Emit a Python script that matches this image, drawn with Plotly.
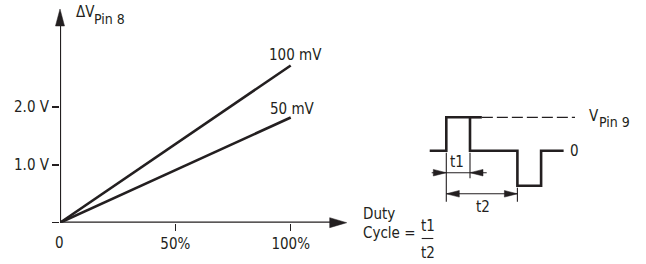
import plotly.graph_objects as go

# ---------------- data ----------------
duty_pct = [0, 100]                  # duty cycle (%)
dv_100mV = [0, 2.72]                 # ΔV Pin 8 (V) for 100 mV
dv_50mV = [0, 1.82]                  # ΔV Pin 8 (V) for 50 mV
x_tick_vals = [50, 100]
x_tick_text = ["50%", "100%"]
y_tick_vals = [0, 1, 2]
y_tick_text = ["", "1.0 V", "2.0 V"]

# waveform (time in t1 units, level in V_Pin9 units)
wave_t = [-0.7, 0, 0, 1, 1, 3, 3, 4, 4, 4.95]
wave_v = [0, 0, 1, 1, 0, 0, -1.05, -1.05, 0, 0]
hold_t = [1, 1.5]
dash_t = [1.5, 5.43]
t1_len = 1
t2_len = 3

# ---------------- layout helpers ----------------
W, H = 646, 264
INK = "#231f20"
FONT = "DejaVu Sans Condensed, Liberation Sans Narrow, Liberation Sans, sans-serif"
FS = 15

# main chart pixel geometry
X0, XPX_PER = 60.0, 2.307        # 0 % at 60 px
Y0, YPX_PER = 222.7, 57.8        # 0 V at 222.7 px
X_END, Y_TOP = 346.7, 9.0

# waveform pixel geometry
T0, TPX = 446.3, 23.7
V0, VPX = 150.7, 33.4


def fx(p):
    return p / W


def fy(p):
    return 1 - p / H


def wx(t):
    return T0 + TPX * t


def wy(v):
    return V0 - VPX * v


def tri(tip, direction, length, half):
    x, y = tip
    if direction == "right":
        pts = [(x, y), (x - length, y - half), (x - length, y + half)]
    elif direction == "left":
        pts = [(x, y), (x + length, y - half), (x + length, y + half)]
    else:  # up
        pts = [(x, y), (x - half, y + length), (x + half, y + length)]
    d = "M " + " L ".join(f"{fx(a):.5f},{fy(b):.5f}" for a, b in pts) + " Z"
    return dict(type="path", xref="paper", yref="paper", path=d,
                fillcolor=INK, line=dict(color=INK, width=0.5), layer="above")


def seg(x0, y0, x1, y1, width=1.2, dash="solid"):
    return dict(type="line", xref="paper", yref="paper",
                x0=fx(x0), y0=fy(y0), x1=fx(x1), y1=fy(y1),
                line=dict(color=INK, width=width, dash=dash), layer="above")


def txt(text, x, y, size=FS, xanchor="center"):
    return dict(text=text, xref="paper", yref="paper", x=fx(x), y=fy(y),
                xanchor=xanchor, yanchor="middle", showarrow=False,
                font=dict(family=FONT, size=size, color=INK))


fig = go.Figure()

# main chart lines
fig.add_trace(go.Scatter(x=duty_pct, y=dv_100mV, mode="lines",
                         line=dict(color=INK, width=2.6), xaxis="x", yaxis="y",
                         hoverinfo="skip", showlegend=False))
fig.add_trace(go.Scatter(x=duty_pct, y=dv_50mV, mode="lines",
                         line=dict(color=INK, width=2.6), xaxis="x", yaxis="y",
                         hoverinfo="skip", showlegend=False))

# waveform
fig.add_trace(go.Scatter(x=wave_t, y=wave_v, mode="lines",
                         line=dict(color=INK, width=2.6), xaxis="x2", yaxis="y2",
                         hoverinfo="skip", showlegend=False))
fig.add_trace(go.Scatter(x=hold_t, y=[1, 1], mode="lines",
                         line=dict(color=INK, width=2.6), xaxis="x2", yaxis="y2",
                         hoverinfo="skip", showlegend=False))
fig.add_trace(go.Scatter(x=dash_t, y=[1, 1], mode="lines",
                         line=dict(color=INK, width=1.3, dash="11px,4px"),
                         xaxis="x2", yaxis="y2",
                         hoverinfo="skip", showlegend=False))

xr = [0, (X_END - X0) / XPX_PER]
yr = [0, (Y0 - Y_TOP) / YPX_PER]

fig.update_layout(
    width=W, height=H,
    margin=dict(l=0, r=0, t=0, b=0),
    paper_bgcolor="white", plot_bgcolor="rgba(0,0,0,0)",
    showlegend=False,
    xaxis=dict(domain=[fx(X0), fx(X_END)], range=xr, showgrid=False,
               zeroline=False, showline=False, tickmode="array",
               tickvals=x_tick_vals, ticktext=x_tick_text, ticks="outside",
               ticklen=7, tickwidth=1.5, tickcolor=INK, automargin=False,
               tickfont=dict(family=FONT, size=FS, color=INK), anchor="y"),
    yaxis=dict(domain=[fy(Y0), fy(Y_TOP)], range=yr, showgrid=False,
               zeroline=False, showline=False, tickmode="array",
               tickvals=y_tick_vals, ticktext=y_tick_text, ticks="outside",
               ticklen=7, tickwidth=1.5, tickcolor=INK, automargin=False,
               tickfont=dict(family=FONT, size=FS, color=INK), anchor="x"),
    xaxis2=dict(domain=[0, 1], range=[-T0 / TPX, (W - T0) / TPX],
                visible=False, anchor="y2"),
    yaxis2=dict(domain=[0, 1], range=[(V0 - H) / VPX, V0 / VPX],
                visible=False, anchor="x2"),
)

shapes = []
# axes lines
shapes.append(dict(type="line", xref="x", yref="y", x0=0, y0=0,
                   x1=(X_END - 10 - X0) / XPX_PER, y1=0,
                   line=dict(color=INK, width=2.2), layer="above"))
shapes.append(dict(type="line", xref="x", yref="y", x0=0, y0=0, x1=0,
                   y1=(Y0 - Y_TOP - 10) / YPX_PER,
                   line=dict(color=INK, width=2.2), layer="above"))
shapes.append(tri((X_END, Y0), "right", 17, 5))
shapes.append(tri((X0, Y_TOP), "up", 17, 4.5))

# dimension extension lines
shapes.append(seg(wx(0), wy(0) + 2, wx(0), 201.7, width=1.1))
shapes.append(seg(wx(t1_len), wy(0) + 2, wx(t1_len), 178.3, width=1.1))
shapes.append(seg(wx(t2_len), wy(-1.05) + 2, wx(t2_len), 201.7, width=1.1))
# t1 dimension
y_t1 = 172.7
shapes.append(seg(431.7, y_t1, 486.7, y_t1, width=1.1))
shapes.append(tri((wx(0), y_t1), "right", 13, 3.3))
shapes.append(tri((wx(t1_len), y_t1), "left", 13, 3.3))
# t2 dimension
y_t2 = 193.8
shapes.append(seg(wx(0), y_t2, wx(t2_len), y_t2, width=1.1))
shapes.append(tri((wx(0), y_t2), "left", 13, 3.3))
shapes.append(tri((wx(t2_len), y_t2), "right", 13, 3.3))
# fraction bar
shapes.append(seg(421.7, 238.5, 433.3, 238.5, width=1.1))

fig.update_layout(shapes=shapes)

ann = [
    txt("0", 59, 243),
    txt("ΔV", 74, 11.5, xanchor="left"),
    txt("Pin 8", 92, 18.5, size=14, xanchor="left"),
    txt("100 mV", 295, 55),
    txt("50 mV", 292, 109),
    txt("V", 586.5, 115.5, xanchor="left"),
    txt("Pin 9", 597, 121.5, size=14, xanchor="left"),
    txt("0", wx(4.95) + 11, wy(0)),
    txt("t1", wx(0.44), 161.7),
    txt("t2", wx(1.56), 206.7),
    txt("Duty", 361, 213.5, xanchor="left"),
    txt("Cycle =", 361, 233.3, xanchor="left"),
    txt("t1", 427.5, 226),
    txt("t2", 427.5, 252.5),
]
fig.update_layout(annotations=ann)

fig.write_html("out.html",
               config={"displayModeBar": False, "staticPlot": True},
               post_script="document.body.style.margin='0';"
                           "document.body.style.overflow='hidden';")
